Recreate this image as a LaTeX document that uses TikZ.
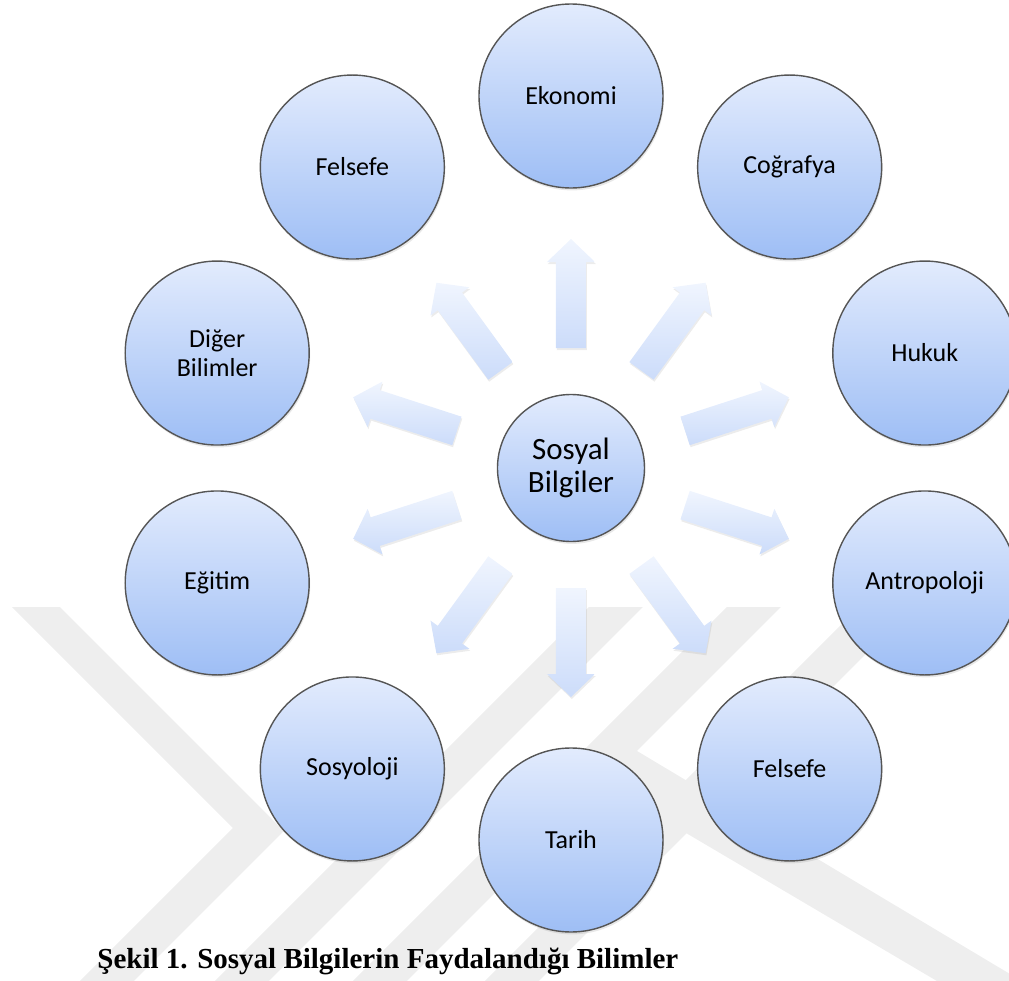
\documentclass[tikz,border=0pt]{standalone}
\usepackage{fontspec}
\setmainfont{Carlito}
\newfontfamily\captionfont{Liberation Serif}
\usetikzlibrary{calc,shadows}

\definecolor{bubbletop}{RGB}{226,235,253}
\definecolor{bubblebot}{RGB}{158,190,245}
\definecolor{bubbleline}{RGB}{85,85,85}
\definecolor{arrowtop}{RGB}{240,245,254}
\definecolor{arrowbot}{RGB}{204,220,250}
\definecolor{markgray}{RGB}{238,238,238}

\tikzset{
  bubble/.style={circle, draw=bubbleline, line width=0.7pt, minimum size=92pt, inner sep=0pt,
    top color=bubbletop, bottom color=bubblebot, align=center,
    font=\fontsize{13}{14.5}\selectfont,
    drop shadow={opacity=0.18, shadow xshift=0.5pt, shadow yshift=-1.2pt}},
  hub/.style={bubble, minimum size=73.5pt, font=\fontsize{15.5}{16.5}\selectfont},
  blockarrow/.style={top color=arrowtop, bottom color=arrowbot,
    drop shadow={opacity=0.15, shadow xshift=0.4pt, shadow yshift=-1pt}},
  wmband/.style={fill=markgray, draw=none}
}

\begin{document}
\begin{tikzpicture}[x=0.5pt, y=0.5pt]
\def \ring {372}

% page frame
\clip (-571, -513) rectangle (438, 468);

% watermark
\begin{scope}[shift={(-571, 468)}, yscale=-1]
\path [wmband] (12, 607) -- (60, 607) -- (284, 831) -- (115, 1000) -- (61, 1000) -- (233, 828) -- cycle;
\path [wmband] (589, 607) -- (643, 607) -- (250, 1000) -- (196, 1000) -- cycle;
\path [wmband] (727, 607) -- (781, 607) -- (388, 1000) -- (334, 1000) -- cycle;
\path [wmband] (859, 607) -- (913, 607) -- (520, 1000) -- (466, 1000) -- cycle;
\path [wmband] (612, 736) -- (1020, 980) -- (1020, 1030) -- (586, 774) -- cycle;
\end{scope}

% hub
\node [hub] (sb) at (0, 0) {Sosyal\\Bilgiler};

% ring of sciences
\node [bubble] (eko)  at (90:\ring)  {Ekonomi};
\node [bubble] (cog)  at (54:\ring)  {Coğrafya};
\node [bubble] (huk)  at (18:\ring)  {Hukuk};
\node [bubble] (ant)  at (-18:\ring) {Antropoloji};
\node [bubble] (felb) at (-54:\ring) {Felsefe};
\node [bubble] (tar)  at (-90:\ring) {Tarih};
\node [bubble] (sos)  at (-126:\ring) {Sosyoloji};
\node [bubble] (egi)  at (198:\ring) {Eğitim};
\node [bubble] (dig)  at (162:\ring) {Diğer\\Bilimler};
\node [bubble] (fela) at (126:\ring) {Felsefe};

% block arrows
\def \blockarrow #1{
  \coordinate (t0) at ($(sb.center)!60pt!(#1.center)$);
  \coordinate (t1) at ($(sb.center)!103pt!(#1.center)$);
  \coordinate (t2) at ($(sb.center)!114.5pt!(#1.center)$);
  \path [blockarrow] ($(t0)!7.5pt!90:(#1.center)$) -- ($(t1)!7.5pt!90:(#1.center)$)
    -- ($(t1)!12pt!90:(#1.center)$) -- (t2) -- ($(t1)!12pt!-90:(#1.center)$)
    -- ($(t1)!7.5pt!-90:(#1.center)$) -- ($(t0)!7.5pt!-90:(#1.center)$) -- cycle;
}
\blockarrow{eko}
\blockarrow{cog}
\blockarrow{huk}
\blockarrow{ant}
\blockarrow{felb}
\blockarrow{tar}
\blockarrow{sos}
\blockarrow{egi}
\blockarrow{dig}
\blockarrow{fela}

% caption
\node [anchor=base west, inner sep=0pt, font=\captionfont\bfseries\fontsize{14.5}{17}\selectfont] (cap)
  at (-474, -500) {Şekil 1. Sosyal Bilgilerin Faydalandığı Bilimler};

\end{tikzpicture}
\end{document}
